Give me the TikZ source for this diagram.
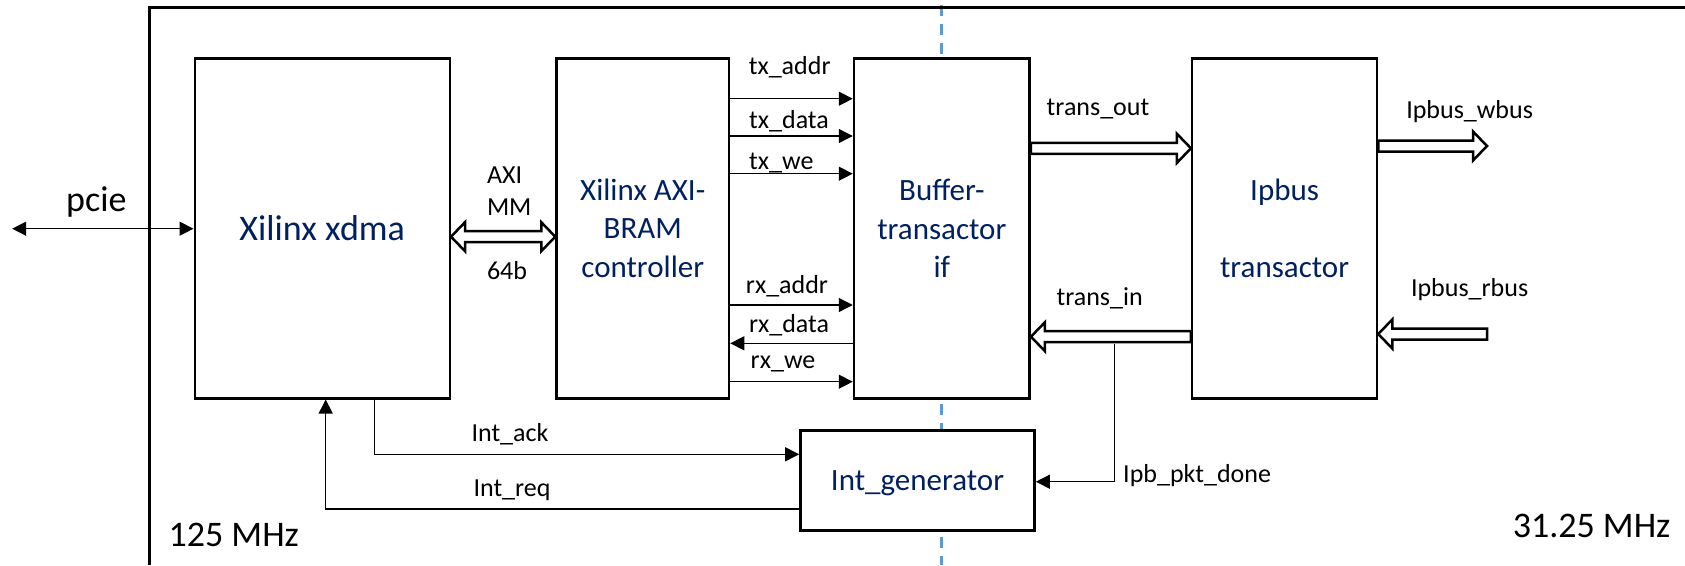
\documentclass[tikz,border=0pt]{standalone}
\usepackage{fontspec}
\setmainfont{Carlito}
\usetikzlibrary{calc,arrows.meta}
\definecolor{blockblue}{RGB}{0,32,96}
\definecolor{clockline}{RGB}{91,155,213}
\begin{document}
\begin{tikzpicture}[x=1pt,y=-1pt,>={Triangle[length=14pt,width=14pt]}]
    \tikzstyle{block}=[draw,line width=2.5pt,fill=white,inner sep=0pt,
        text=blockblue,align=center,font=\fontsize{31}{38.5}\selectfont]
    \tikzstyle{sig}=[line width=1.3pt]
    \tikzstyle{lbl}=[inner sep=0pt,anchor=base,font=\fontsize{26}{30}\selectfont]
    \tikzstyle{big}=[inner sep=0pt,anchor=base,font=\fontsize{36}{40}\selectfont]
    \tikzstyle{bus}=[line width=2.5pt,fill=white,to path={
        let \p1=(\tikztostart), \p2=(\tikztotarget), \n1={sign(\x2-\x1)} in
        (\x1,\y1+5.5pt) -- (\x2-\n1*14pt,\y2+5.5pt) -- (\x2-\n1*14pt,\y2+14.5pt)
        -- (\x2,\y2) -- (\x2-\n1*14pt,\y2-14.5pt) -- (\x2-\n1*14pt,\y2-5.5pt)
        -- (\x1,\y1-5.5pt) -- cycle}]
    \tikzstyle{busboth}=[line width=2.5pt,fill=white,to path={
        let \p1=(\tikztostart), \p2=(\tikztotarget) in
        (\x1,\y1) -- (\x1+14pt,\y1+14.5pt) -- (\x1+14pt,\y1+5.5pt)
        -- (\x2-14pt,\y2+5.5pt) -- (\x2-14pt,\y2+14.5pt) -- (\x2,\y2)
        -- (\x2-14pt,\y2-14.5pt) -- (\x2-14pt,\y2-5.5pt)
        -- (\x1+14pt,\y1-5.5pt) -- (\x1+14pt,\y1-14.5pt) -- cycle}]
    \useasboundingbox (0,0) rectangle (1685,565);
    % Clock domains
    \draw[clockline,line width=2.7pt,dash pattern=on 11pt off 8pt] (941.7,5) -- (941.7,565);
    \draw[line width=2.5pt] (149.3,565) |- (1685,7.3);
    % Blocks
    \node[block,minimum width=255,minimum height=340,font=\fontsize{36}{40}\selectfont]
        (xdma) at (322.25,228.3) {Xilinx xdma};
    \node[block,minimum width=172.5,minimum height=340] (bram) at (642.75,228.3)
        {Xilinx AXI-\\BRAM\\controller};
    \node[block,minimum width=175.7,minimum height=340] (buf) at (941.85,228.3)
        {Buffer-\\transactor\\if};
    \node[block,minimum width=184.8,minimum height=340] (ipbus) at (1284.6,228.3)
        {Ipbus\\[38.5pt]transactor};
    \node[block,minimum width=234.2,minimum height=100,text depth=0pt] (intgen) at (917.5,480.7)
        {Int\_generator};
    % Buses
    \draw[busboth] ([yshift=-8.4pt]xdma.east) to ([yshift=-8.4pt]bram.west);
    \draw[bus] ([yshift=80pt]buf.east) to ([yshift=80pt]ipbus.west);
    \draw[bus] ([yshift=-108.4pt]ipbus.west) to ([yshift=-108.4pt]buf.east);
    \coordinate (wbusend) at (1487,146);
    \coordinate (rbusend) at (1487,334);
    \draw[bus] ([yshift=82.3pt]ipbus.east) to (wbusend);
    \draw[bus] (rbusend) to ([yshift=-105.7pt]ipbus.east);
    % Signals
    \coordinate (pcieend) at (12.2,228.7);
    \draw[sig,<->] (pcieend) -- (xdma.west |- pcieend);
    \draw[sig,->] (bram.east |- 0,98.7) -- (buf.west |- 0,98.7);
    \draw[sig,->] (bram.east |- 0,136) -- (buf.west |- 0,136);
    \draw[sig,->] (bram.east |- 0,173.7) -- (buf.west |- 0,173.7);
    \draw[sig,->] (bram.east |- 0,305) -- (buf.west |- 0,305);
    \draw[sig,<-] (bram.east |- 0,343.3) -- (buf.west |- 0,343.3);
    \draw[sig,->] (bram.east |- 0,381.7) -- (buf.west |- 0,381.7);
    \draw[sig,->] (xdma.south -| 374.3,0) |- (intgen.west |- 0,454.3);
    \draw[sig,->] (intgen.west |- 0,509) -| (xdma.south -| 325.7,0);
    \coordinate (tap) at (1114.5,343.5);
    \draw[sig,->] (tap) |- (intgen.east |- 0,481.7);
    % Labels
    \node[big] (pcielbl) at (96.4,211.7) {pcie};
    \node[lbl,anchor=base west] (axilbl) at (486.8,183.3) {AXI};
    \node[lbl,anchor=base west] (mmlbl) at (486.8,215) {MM};
    \node[lbl,anchor=base west] (widthlbl) at (486.8,279.3) {64b};
    \node[lbl] (txaddr) at (789.7,74) {tx\_addr};
    \node[lbl] (txdata) at (789,128.3) {tx\_data};
    \node[lbl] (txwe) at (781.3,169.3) {tx\_we};
    \node[lbl] (rxaddr) at (787,293.3) {rx\_addr};
    \node[lbl] (rxdata) at (789,332.3) {rx\_data};
    \node[lbl] (rxwe) at (783,368.3) {rx\_we};
    \node[lbl] (transout) at (1098,115) {trans\_out};
    \node[lbl] (transin) at (1099.6,305) {trans\_in};
    \node[lbl] (wbus) at (1469.6,118.3) {Ipbus\_wbus};
    \node[lbl] (rbus) at (1469.6,296.7) {Ipbus\_rbus};
    \node[lbl,anchor=base west] (pktdone) at (1123,482.7) {Ipb\_pkt\_done};
    \node[lbl] (intack) at (510,441) {Int\_ack};
    \node[lbl] (intreq) at (512,496.7) {Int\_req};
    \node[big,anchor=base west] (fastclk) at (168.4,546.7) {125 MHz};
    \node[big,anchor=base east] (slowclk) at (1670.6,537.3) {31.25 MHz};
\end{tikzpicture}
\end{document}
